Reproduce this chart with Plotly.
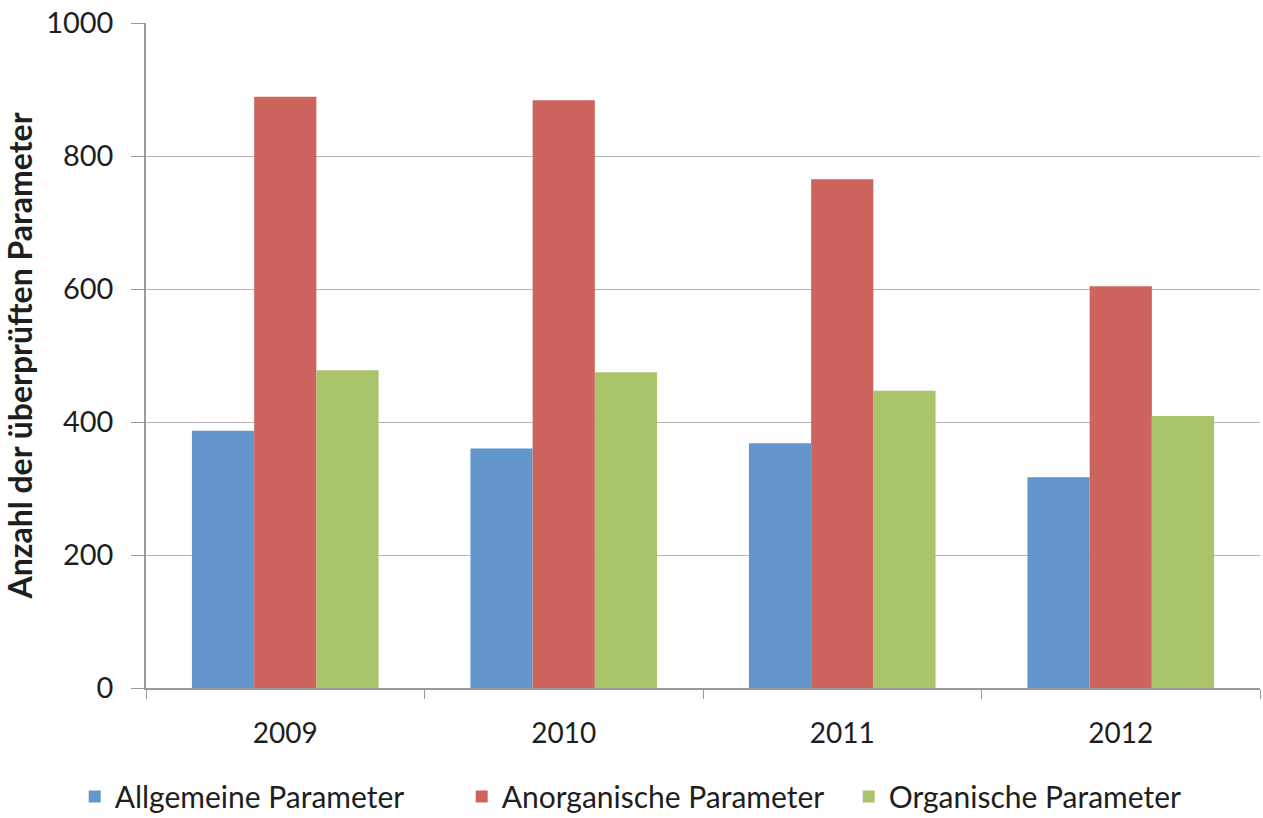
import plotly.graph_objects as go

years = ["2009", "2010", "2011", "2012"]
allgemeine = [387, 360, 368, 317]
anorganische = [889, 884, 765, 604]
organische = [478, 475, 447, 409]

series = [
    ("Allgemeine Parameter", allgemeine, "#6396CB"),
    ("Anorganische Parameter", anorganische, "#CD645E"),
    ("Organische Parameter", organische, "#A9C46B"),
]

fig = go.Figure()
for name, vals, color in series:
    fig.add_trace(go.Bar(x=years, y=vals, name=name, marker=dict(color=color, line=dict(width=0))))

font_family = "Lato, Open Sans, sans-serif"
fig.update_layout(
    barmode="group",
    bargap=0.33,
    bargroupgap=0,
    width=1263,
    height=818,
    margin=dict(l=146, r=3, t=23, b=130, autoexpand=False),
    paper_bgcolor="white",
    plot_bgcolor="white",
    font=dict(family=font_family, size=28, color="#1e1e1e"),
    showlegend=True,
    legend=dict(
        orientation="h",
        x=-0.064, xanchor="left",
        y=-0.163, yanchor="middle",
        font=dict(size=30, color="#1e1e1e"),
        itemwidth=30,
        tracegroupgap=0,
        entrywidth=342,
    ),
    xaxis=dict(
        type="category",
        tickson="boundaries",
        ticks="outside",
        ticklen=9,
        tickcolor="#9a9a9a",
        showline=True,
        linecolor="#9a9a9a",
        linewidth=1.5,
        showgrid=False,
        tickfont=dict(size=28),
        ticklabelstandoff=20,
    ),
    yaxis=dict(
        range=[0, 1000],
        dtick=200,
        ticks="outside",
        ticklen=13,
        tickcolor="#9a9a9a",
        showline=True,
        linecolor="#9a9a9a",
        linewidth=1.5,
        showgrid=True,
        gridcolor="#b4b4b4",
        gridwidth=1.2,
        zeroline=False,
        tickfont=dict(size=29),
        ticklabelstandoff=12,
        title=dict(text="<b>Anzahl der überprüften Parameter</b>", font=dict(size=32), standoff=14),
    ),
)

fig.write_html("out.html")
